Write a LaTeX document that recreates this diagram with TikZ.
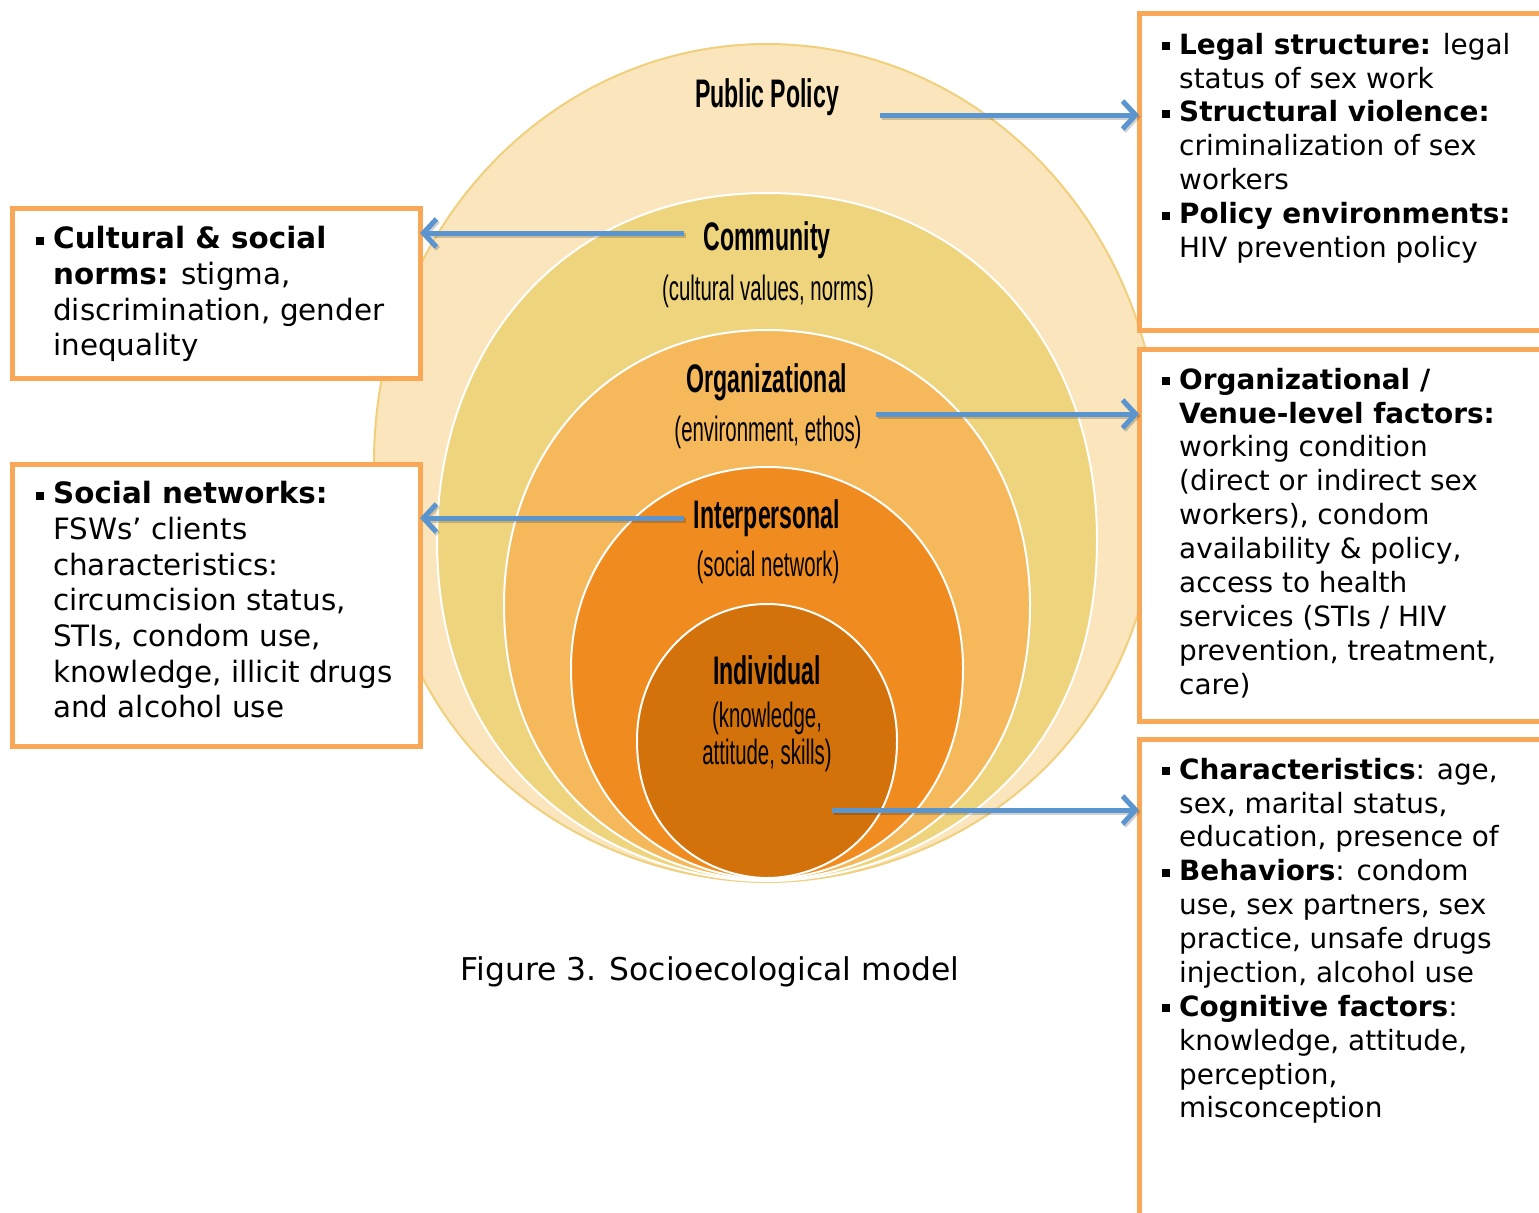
\documentclass[tikz,border=0pt]{standalone}
\usepackage{fontspec}
\setmainfont{DejaVu Sans}
\newfontfamily\ringfont[FakeStretch=0.58]{Liberation Sans}
\usetikzlibrary{arrows.meta}

\definecolor{ringPolicy}{HTML}{FAE5BC}
\definecolor{ringPolicyEdge}{HTML}{F0D07C}
\definecolor{ringCommunity}{HTML}{EFD47E}
\definecolor{ringOrg}{HTML}{F5B85B}
\definecolor{ringInter}{HTML}{F08C1F}
\definecolor{ringIndiv}{HTML}{D3710A}
\definecolor{boxOrange}{HTML}{F9A857}
\definecolor{arrowBlue}{HTML}{5B95CF}

% small square bullet hung to the left of the text column
\newcommand\bul{\llap{\rule[4bp]{8bp}{8bp}\hspace{9bp}}}
\newcommand\firstline{\rule{0pt}{24bp}}

% egg-shaped ring: centre x, top y, bottom y, half width, y of widest point,
% horizontal pull at the top, options
\newcommand\drawegg[7]{%
  \filldraw[#7] (#1,#2)
    .. controls ({#1+#6*#4},#2) and ({#1+#4},{#5-0.5523*(#5-#2)}) .. ({#1+#4},#5)
    .. controls ({#1+#4},{#5+0.74*(#3-#5)}) and ({#1+0.40*#4},#3) .. (#1,#3)
    .. controls ({#1-0.40*#4},#3) and ({#1-#4},{#5+0.74*(#3-#5)}) .. ({#1-#4},#5)
    .. controls ({#1-#4},{#5-0.5523*(#5-#2)}) and ({#1-#6*#4},#2) .. (#1,#2) -- cycle;}

\begin{document}
\begin{tikzpicture}[x=1bp,y=-1bp,
  factorbox/.style={draw=boxOrange, line width=5bp, fill=white, anchor=north west,
    inner sep=0pt, outer sep=0pt},
  righttext/.style={anchor=north west, inner sep=0pt, align=left,
    font=\fontsize{28}{34}\selectfont},
  lefttext/.style={anchor=north west, inner sep=0pt, align=left,
    font=\fontsize{29.5}{35.8}\selectfont},
  ringtitle/.style={inner sep=0pt, font=\ringfont\bfseries\fontsize{40}{44}\selectfont},
  ringsub/.style={inner sep=0pt, font=\ringfont\fontsize{35.3}{38}\selectfont},
  levelarrow/.style={draw=arrowBlue, line width=5bp,
    -{Straight Barb[length=13bp,width=28bp,line width=5bp]},
    preaction={draw=black, opacity=0.18, line width=5bp,
      transform canvas={shift={(1.5bp,-2bp)}}}}
]
\useasboundingbox (0,0) rectangle (1539,1212);
\clip (0,0) rectangle (1539,1212);

% nested levels of the model
\drawegg{767}{44}{882}{393}{462}{0.5523}{fill=ringPolicy, draw=ringPolicyEdge, line width=2bp}
\drawegg{767}{193}{881}{330}{540}{0.62}{fill=ringCommunity, draw=white, line width=2bp}
\drawegg{767}{330}{880}{263}{605}{0.6}{fill=ringOrg, draw=white, line width=2bp}
\drawegg{767}{467}{879}{196}{668}{0.58}{fill=ringInter, draw=white, line width=2bp}
\drawegg{767}{604}{878}{130}{740}{0.5523}{fill=ringIndiv, draw=white, line width=2bp}

% level labels
\node[ringtitle] (policy) at (767,97) {Public Policy};
\node[ringtitle] (community) at (767,240) {Community};
\node[ringsub] (communitySub) at (768,291) {(cultural values, norms)};
\node[ringtitle] (org) at (767,382) {Organizational};
\node[ringsub] (orgSub) at (768,432) {(environment, ethos)};
\node[ringtitle] (inter) at (767,518) {Interpersonal};
\node[ringsub] (interSub) at (768,567) {(social network)};
\node[ringtitle] (indiv) at (767,670) {Individual};
\node[ringsub] (indivSub1) at (767,718) {(knowledge,};
\node[ringsub] (indivSub2) at (767,755) {attitude, skills)};

% factor boxes
\node[factorbox, minimum width=500bp, minimum height=317bp] (policyBox) at (1139,13) {};
\node[factorbox, minimum width=500bp, minimum height=372bp] (orgBox) at (1139,349) {};
\node[factorbox, minimum width=500bp, minimum height=600bp] (indivBox) at (1139,739) {};
\node[factorbox, minimum width=408bp, minimum height=170bp] (communityBox) at (12,208) {};
\node[factorbox, minimum width=408bp, minimum height=282bp] (interBox) at (12,464) {};

\node[righttext] (policyText) at (1179,30) {\firstline\bul\textbf{Legal structure:} legal\\
status of sex work\\
\bul\textbf{Structural violence:}\\
criminalization of sex\\
workers\\
\bul\textbf{Policy environments:}\\
HIV prevention policy};

\node[righttext] (orgText) at (1179,365) {\firstline\bul\textbf{Organizational /}\\
\textbf{Venue-level factors:}\\
working condition\\
(direct or indirect sex\\
workers), condom\\
availability \& policy,\\
access to health\\
services (STIs / HIV\\
prevention, treatment,\\
care)};

\node[righttext] (indivText) at (1179,755) {\firstline\bul\textbf{Characteristics}: age,\\
sex, marital status,\\
education, presence of\\
\bul\textbf{Behaviors}: condom\\
use, sex partners, sex\\
practice, unsafe drugs\\
injection, alcohol use\\
\bul\textbf{Cognitive factors}:\\
knowledge, attitude,\\
perception,\\
misconception};

\node[lefttext] (communityText) at (53,224.5) {\firstline\bul\textbf{Cultural \& social}\\
\textbf{norms:} stigma,\\
discrimination, gender\\
inequality};

\node[lefttext] (interText) at (53,479.5) {\firstline\bul\textbf{Social networks:}\\
FSWs’ clients\\
characteristics:\\
circumcision status,\\
STIs, condom use,\\
knowledge, illicit drugs\\
and alcohol use};

% arrows from each level to its factors
\coordinate (policyOut) at (880,115);
\coordinate (communityOut) at (684,233);
\coordinate (orgOut) at (876,414);
\coordinate (interOut) at (684,518);
\coordinate (indivOut) at (832,810);
\draw[levelarrow] (policyOut) -- (policyOut -| policyBox.west);
\draw[levelarrow] (communityOut) -- (communityOut -| communityBox.east);
\draw[levelarrow] (orgOut) -- (orgOut -| orgBox.west);
\draw[levelarrow] (interOut) -- (interOut -| interBox.east);
\draw[levelarrow] (indivOut) -- (indivOut -| indivBox.west);

% caption
\node[inner sep=0pt, font=\fontsize{31.5}{38}\selectfont] (caption) at (710,972)
  {Figure 3. Socioecological model};
\end{tikzpicture}
\end{document}
